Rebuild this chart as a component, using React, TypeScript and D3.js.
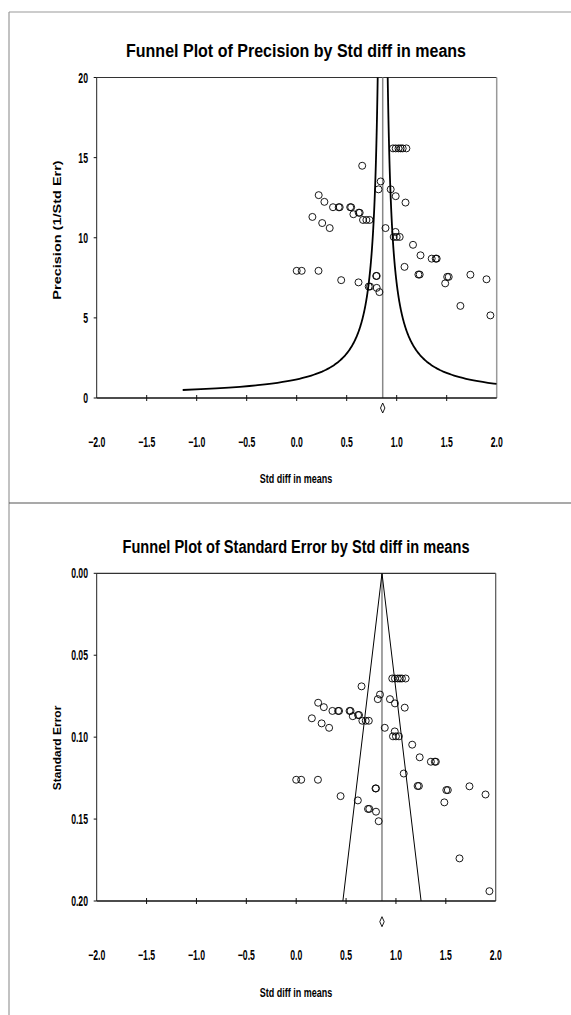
import React from "react";
import * as d3 from "d3";

// ---- data ----
const effects = [
  0.963, 0.99, 1.018, 1.04, 1.06, 1.097, 0.655, 0.84, 0.818, 0.94, 0.99, 1.088,
  0.22, 0.277, 0.363, 0.42, 0.43, 0.535, 0.545, 0.567, 0.62, 0.63, 0.663, 0.697,
  0.728, 0.157, 0.255, 0.33, 0.888, 0.988, 0.97, 1.0, 1.03, 1.163, 1.238, 1.35,
  1.39, 1.4, 1.078, 1.217, 1.23, 1.52, 1.505, 1.485, 1.737, 1.898, 1.637, 1.937,
  0.0, 0.05, 0.218, 0.445, 0.618, 0.795, 0.8, 0.72, 0.733, 0.8, 0.827,
];
const stdErrors = [
  0.0642, 0.0642, 0.0642, 0.0642, 0.0642, 0.0642, 0.069, 0.074, 0.0768, 0.0768,
  0.0794, 0.082, 0.079, 0.0817, 0.084, 0.084, 0.084, 0.084, 0.084, 0.0872,
  0.0865, 0.0865, 0.09, 0.09, 0.09, 0.0885, 0.0916, 0.0943, 0.0943, 0.0965,
  0.0995, 0.0995, 0.0995, 0.1046, 0.1123, 0.115, 0.115, 0.115, 0.1222, 0.1298,
  0.1298, 0.1323, 0.1323, 0.1398, 0.13, 0.135, 0.174, 0.194, 0.126, 0.126,
  0.126, 0.136, 0.1386, 0.1313, 0.1313, 0.1438, 0.1438, 0.1455, 0.1513,
];
const meanEffect = 0.86;
const xTicks = [-2, -1.5, -1, -0.5, 0, 0.5, 1, 1.5, 2];
const precisionTicks = [0, 5, 10, 15, 20];
const seTicks = [0, 0.05, 0.1, 0.15, 0.2];
const precisionCurveK = 1.0;
const seFunnelZ = 1.96;

const FONT = "'Liberation Sans', Arial, sans-serif";

function CText(props: {
  x: number; y: number; sx?: number; sy?: number; size: number; anchor?: string;
  rotate?: boolean; children: React.ReactNode; len?: number;
}) {
  const { x, y, sx = 1, sy = 1, size, anchor = "middle", rotate, children, len } = props;
  const tr = rotate
    ? `translate(${x},${y}) rotate(-90) scale(${sx},${sy})`
    : `translate(${x},${y}) scale(${sx},${sy})`;
  return (
    <text transform={tr} textAnchor={anchor} fontFamily={FONT} fontSize={size}
      fontWeight="bold" fill="#000"
      {...(len ? { textLength: len, lengthAdjust: "spacingAndGlyphs" } : {})}>
      {children}
    </text>
  );
}

export default function App() {
  const W = 571, H = 1015;
  const pts = effects.map((e, i) => ({ e, se: stdErrors[i] }));

  // top plot
  const x1 = d3.scaleLinear().domain([-2, 2]).range([96.7, 496.7]);
  const y1 = d3.scaleLinear().domain([0, 20]).range([398, 77.5]);
  const pVals = d3.range(0.5, 40.01, 0.05);
  const leftCurve = d3.line<number>()
    .x((p) => x1(meanEffect - precisionCurveK / p))
    .y((p) => y1(p));
  const rightCurve = d3.line<number>()
    .x((p) => x1(meanEffect + precisionCurveK / p))
    .y((p) => y1(p));
  const rightP = pVals.filter((p) => meanEffect + precisionCurveK / p <= 2.0);
  const rightP0 = precisionCurveK / (2 - meanEffect);

  // bottom plot
  const x2 = d3.scaleLinear().domain([-2, 2]).range([96.7, 495.7]);
  const y2 = d3.scaleLinear().domain([0, 0.2]).range([573.3, 901]);

  const fmtX = d3.format(".1f");
  const fmtSE = d3.format(".2f");

  const diamond = (cx: number, cy: number) =>
    `M${cx},${cy - 5}L${cx + 2.2},${cy}L${cx},${cy + 5}L${cx - 2.2},${cy}Z`;

  const tickSize = 14, tickSx = 0.62;

  return (
    <svg width={W} height={H} style={{ position: "absolute", left: 0, top: 0, background: "#fff" }}>
      <defs>
        <clipPath id="c1">
          <rect x={x1(-2)} y={y1(20)} width={x1(2) - x1(-2)} height={y1(0) - y1(20)} />
        </clipPath>
      </defs>
      <rect width={W} height={H} fill="#fff" />
      {/* page frame */}
      <line x1={9} y1={12} x2={W} y2={12} stroke="#999" strokeWidth={1.2} />
      <line x1={9} y1={12} x2={9} y2={H} stroke="#999" strokeWidth={1.2} />
      <line x1={9} y1={503} x2={W} y2={503} stroke="#555" strokeWidth={1.2} />

      {/* ===== Top plot ===== */}
      <CText x={296} y={57} size={18} len={340}>Funnel Plot of Precision by Std diff in means</CText>
      <line x1={x1(-2)} y1={y1(20)} x2={x1(2)} y2={y1(20)} stroke="#333" strokeWidth={1.2} />
      <line x1={x1(2)} y1={y1(20)} x2={x1(2)} y2={y1(0)} stroke="#999" strokeWidth={1.5} />
      <line x1={x1(-2)} y1={y1(20)} x2={x1(-2)} y2={y1(0)} stroke="#222" strokeWidth={1} />
      <line x1={x1(meanEffect)} y1={y1(20)} x2={x1(meanEffect)} y2={y1(0)} stroke="#888" strokeWidth={1.5} />
      <g clipPath="url(#c1)">
        <path d={leftCurve(pVals) || ""} fill="none" stroke="#000" strokeWidth={1.8} />
        <path d={rightCurve([rightP0, ...rightP]) || ""} fill="none" stroke="#000" strokeWidth={1.8} />
      </g>
      <line x1={x1(-2)} y1={y1(0)} x2={x1(2)} y2={y1(0)} stroke="#111" strokeWidth={1.3} />
      {xTicks.map((t) => (
        <g key={"t1" + t}>
          {t > -2 && t < 2 && (
            <line x1={x1(t)} y1={y1(0) - 3} x2={x1(t)} y2={y1(0) + 3} stroke="#111" strokeWidth={1} />
          )}
          <CText x={x1(t)} y={446.5} size={tickSize} sx={tickSx}>{fmtX(t)}</CText>
        </g>
      ))}
      {precisionTicks.map((t) => (
        <g key={"p" + t}>
          <line x1={x1(-2) - 3} y1={y1(t)} x2={x1(-2)} y2={y1(t)} stroke="#111" strokeWidth={1} />
          <CText x={88} y={y1(t) + 5} size={tickSize} sx={tickSx} anchor="end">{String(t)}</CText>
        </g>
      ))}
      <path d={diamond(x1(meanEffect), 408)} fill="#fff" stroke="#000" strokeWidth={0.9} />
      <CText x={61} y={230} size={14.5} sy={0.78} rotate>Precision (1/Std Err)</CText>
      <CText x={296} y={483} size={12.5} sx={0.72}>Std diff in means</CText>
      {pts.map((d, i) => (
        <circle key={"a" + i} cx={x1(d.e)} cy={y1(1 / d.se)} r={3.5} fill="none" stroke="#000" strokeWidth={0.9} />
      ))}

      {/* ===== Bottom plot ===== */}
      <CText x={296} y={553} size={18} len={347}>Funnel Plot of Standard Error by Std diff in means</CText>
      <line x1={x2(-2)} y1={y2(0)} x2={x2(2)} y2={y2(0)} stroke="#333" strokeWidth={1.2} />
      <line x1={x2(2)} y1={y2(0)} x2={x2(2)} y2={y2(0.2)} stroke="#555" strokeWidth={1.2} />
      <line x1={x2(-2)} y1={y2(0)} x2={x2(-2)} y2={y2(0.2)} stroke="#222" strokeWidth={1} />
      <line x1={x2(meanEffect)} y1={y2(0)} x2={x2(meanEffect)} y2={y2(0.2)} stroke="#666" strokeWidth={1.2} />
      <line x1={x2(meanEffect)} y1={y2(0)} x2={x2(meanEffect - seFunnelZ * 0.2)} y2={y2(0.2)} stroke="#000" strokeWidth={1} />
      <line x1={x2(meanEffect)} y1={y2(0)} x2={x2(meanEffect + seFunnelZ * 0.2)} y2={y2(0.2)} stroke="#000" strokeWidth={1} />
      <line x1={x2(-2)} y1={y2(0.2)} x2={x2(2)} y2={y2(0.2)} stroke="#111" strokeWidth={1.3} />
      {xTicks.map((t) => (
        <g key={"t2" + t}>
          {t > -2 && t < 2 && (
            <line x1={x2(t)} y1={y2(0.2) - 3} x2={x2(t)} y2={y2(0.2) + 3} stroke="#111" strokeWidth={1} />
          )}
          <CText x={x2(t)} y={959.5} size={tickSize} sx={tickSx}>{fmtX(t)}</CText>
        </g>
      ))}
      {seTicks.map((t) => (
        <g key={"s" + t}>
          <line x1={x2(-2) - 3} y1={y2(t)} x2={x2(-2)} y2={y2(t)} stroke="#111" strokeWidth={1} />
          <CText x={88} y={y2(t) + 5} size={tickSize} sx={tickSx} anchor="end">{fmtSE(t)}</CText>
        </g>
      ))}
      <path d={diamond(x2(meanEffect), 921.7)} fill="#fff" stroke="#000" strokeWidth={0.9} />
      <CText x={61} y={748} size={12} sy={0.85} rotate>Standard Error</CText>
      <CText x={296} y={997} size={12.5} sx={0.72}>Std diff in means</CText>
      {pts.map((d, i) => (
        <circle key={"b" + i} cx={x2(d.e)} cy={y2(d.se)} r={3.5} fill="none" stroke="#000" strokeWidth={0.9} />
      ))}
    </svg>
  );
}
